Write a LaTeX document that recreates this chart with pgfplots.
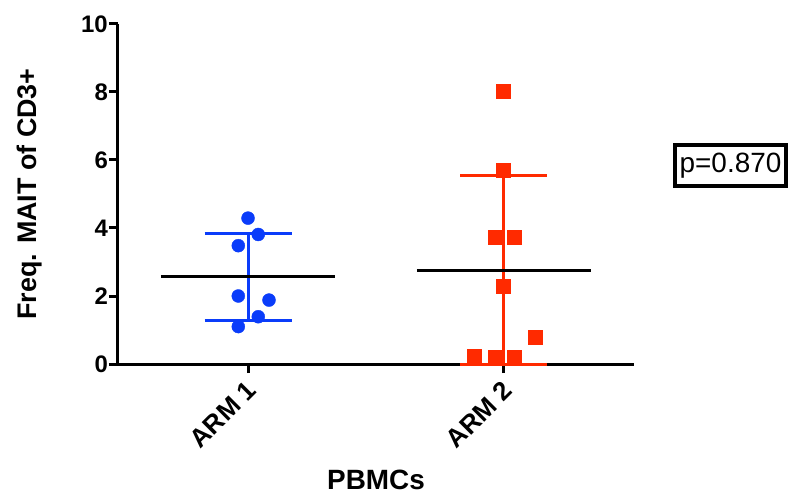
\documentclass[border=0pt]{standalone}
\usepackage{fontspec}
\setmainfont{Liberation Sans}
\usepackage{pgfplots}
\pgfplotsset{compat=1.18}
\definecolor{pblue}{HTML}{0A3CFA}
\definecolor{pred}{HTML}{FF2A00}
\begin{document}
\begin{tikzpicture}
\useasboundingbox (-118bp,-133bp) rectangle (673bp,364bp);
\begin{axis}[
  at={(0,0)}, anchor=south west,
  scale only axis, width=516bp, height=340bp,
  xmin=-0.508, xmax=1.508, ymin=0, ymax=10,
  clip=false,
  axis x line*=bottom, axis y line*=left,
  axis line style={line width=3bp,-},
  every tick/.style={line width=3bp,black},
  tick align=outside, major tick length=9bp,
  xtick={0,1}, xticklabels={ARM 1,ARM 2},
  ytick={0,2,4,6,8,10},
  /pgf/number format/assume math mode=true,
  yticklabel style={inner sep=1bp, font=\fontsize{24}{28}\selectfont\bfseries},
  xticklabel style={yshift=-5bp, xshift=-3bp, rotate=45, anchor=north east, inner sep=1bp, font=\fontsize{26}{30}\selectfont\bfseries},
  xlabel={PBMCs}, ylabel={Freq. MAIT of CD3+},
  xlabel style={at={(axis description cs:0.5,-0.341)}, anchor=center, font=\fontsize{28}{32}\selectfont\bfseries},
  ylabel style={at={(axis description cs:-0.172,0.5)}, anchor=center, font=\fontsize{27}{32}\selectfont\bfseries},
]
% ARM 1 SD
\addplot[pblue, line width=3bp] coordinates {(0,1.29) (0,3.84)};
\addplot[pblue, line width=3bp] coordinates {(-0.17,3.84) (0.17,3.84)};
\addplot[pblue, line width=3bp] coordinates {(-0.17,1.29) (0.17,1.29)};
% ARM 2 SD
\addplot[pred, line width=3bp] coordinates {(1,0) (1,5.53)};
\addplot[pred, line width=3bp] coordinates {(0.83,5.53) (1.17,5.53)};
\addplot[pred, line width=3bp] coordinates {(0.83,0) (1.17,0)};
% means
\addplot[black, line width=3bp] coordinates {(-0.34,2.564) (0.34,2.564)};
\addplot[black, line width=3bp] coordinates {(0.66,2.753) (1.34,2.753)};
% points
\addplot[only marks, mark=*, mark size=6.5bp, pblue, mark options={draw=pblue, fill=pblue}] coordinates {
(0.0,4.29) (0.04,3.81) (-0.038,3.48) (-0.038,2.0) (0.082,1.88) (0.04,1.39) (-0.038,1.10)};
\addplot[only marks, mark=square*, mark size=7bp, pred, mark options={draw=pred, fill=pred, line width=0pt}] coordinates {
(1.0,8.01) (1.0,5.69) (0.965,3.72) (1.043,3.72) (1.0,2.27) (1.125,0.77) (0.883,0.21) (0.965,0.2) (1.043,0.2)};
\node[draw=black, line width=4bp, minimum width=111bp, minimum height=41bp, inner sep=1bp, font=\fontsize{28}{32}\selectfont] at (axis cs:1.885,5.84) {p=0.870};
\end{axis}
\end{tikzpicture}
\end{document}
